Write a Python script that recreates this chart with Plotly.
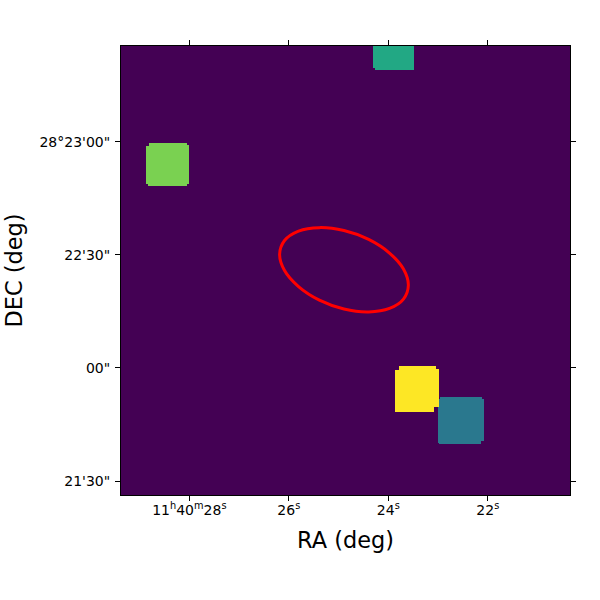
import numpy as np
import plotly.graph_objects as go

# segmentation boxes, RA in seconds of 11h40m, DEC in arcsec above 28d
labels = [2, 3, 4, 5]
ra_left = [22.999, 24.303, 28.869, 23.854]
ra_right = [22.076, 23.480, 28.006, 22.965]
dec_top = [1312.16, 1410.0, 1379.66, 1320.44]
dec_bottom = [1299.88, 1399.06, 1368.27, 1308.35]
# notches at the corners in image cells: top left, top right, bottom right, bottom left
corners = [[2, 2, 3, 1], [0, 0, 0, 2], [3, 2, 2, 2], [4, 3, 5, 0]]

# ellipse region
ellipse_ra = [23.597, 23.695, 23.976, 24.395, 24.891, 25.386, 25.805, 26.086, 26.185,
              26.086, 25.805, 25.386, 24.891, 24.395, 23.976, 23.695, 23.597]
ellipse_dec = [1341.94, 1338.27, 1335.78, 1334.87, 1335.64, 1337.99, 1341.59, 1345.84, 1350.14,
               1353.81, 1356.31, 1357.22, 1356.44, 1354.09, 1350.49, 1346.24, 1341.94]

ra_ticks = [28, 26, 24, 22]
ra_labels = ["11<sup>h</sup>40<sup>m</sup>28<sup>s</sup>", "26<sup>s</sup>", "24<sup>s</sup>", "22<sup>s</sup>"]
dec_ticks = [1380, 1350, 1320, 1290]
dec_labels = ["28°23'00\"", "22'30\"", "00\"", "21'30\""]

ra_range = [29.374, 20.347]
dec_range = [1286.3, 1405.4]
colors = [[0, "#440154"], [0.4, "#2a788e"], [0.6, "#22a884"], [0.8, "#7ad151"], [1, "#fde725"]]

# image grid
n = 450
ra = np.linspace(ra_range[0], ra_range[1], n, endpoint=False) + (ra_range[1] - ra_range[0]) / n / 2
dec = np.linspace(dec_range[0], dec_range[1], n, endpoint=False) + (dec_range[1] - dec_range[0]) / n / 2
dra = abs(ra[1] - ra[0])
ddec = dec[1] - dec[0]
rr, dd = np.meshgrid(ra, dec)
seg = np.zeros((n, n))

for i in range(len(labels)):
    mask = (rr <= ra_left[i]) & (rr >= ra_right[i]) & (dd <= dec_top[i]) & (dd >= dec_bottom[i])
    tl, tr, br, bl = corners[i]
    mask &= ~((rr > ra_left[i] - tl * dra) & (dd > dec_top[i] - tl * ddec))
    mask &= ~((rr < ra_right[i] + tr * dra) & (dd > dec_top[i] - tr * ddec))
    mask &= ~((rr < ra_right[i] + br * dra) & (dd < dec_bottom[i] + br * ddec))
    mask &= ~((rr > ra_left[i] - bl * dra) & (dd < dec_bottom[i] + bl * ddec))
    seg[mask] = labels[i]

fig = go.Figure()
fig.add_trace(go.Heatmap(x=ra, y=dec, z=seg, zmin=0, zmax=5, colorscale=colors,
                         showscale=False, hoverinfo="skip"))
fig.add_trace(go.Scatter(x=ellipse_ra, y=ellipse_dec, mode="lines",
                         line=dict(color="red", width=3, shape="spline", smoothing=1),
                         showlegend=False))

fig.update_layout(
    width=600,
    height=600,
    margin=dict(l=120.5, r=30, t=46, b=105),
    paper_bgcolor="white",
    plot_bgcolor="#440154",
    font=dict(family="DejaVu Sans", color="black", size=14),
)
fig.update_xaxes(
    range=ra_range, tickmode="array", tickvals=ra_ticks, ticktext=ra_labels,
    ticks="outside", ticklen=5, tickwidth=1.1, tickcolor="black", ticklabelstandoff=-3,
    showline=True, linecolor="black", linewidth=1.1, mirror="ticks",
    showgrid=False, zeroline=False,
    title=dict(text="RA (deg)", font=dict(size=22.4), standoff=15),
)
fig.update_yaxes(
    range=dec_range, tickmode="array", tickvals=dec_ticks, ticktext=dec_labels,
    ticks="outside", ticklen=5, tickwidth=1.1, tickcolor="black", ticklabelstandoff=2,
    showline=True, linecolor="black", linewidth=1.1, mirror="ticks",
    showgrid=False, zeroline=False,
    title=dict(text="DEC (deg)", font=dict(size=22.4), standoff=10),
)

# page body margin would push the figure off the window
fig.write_html("out.html", config=dict(displayModeBar=False),
               post_script="document.body.style.margin = '0';")
